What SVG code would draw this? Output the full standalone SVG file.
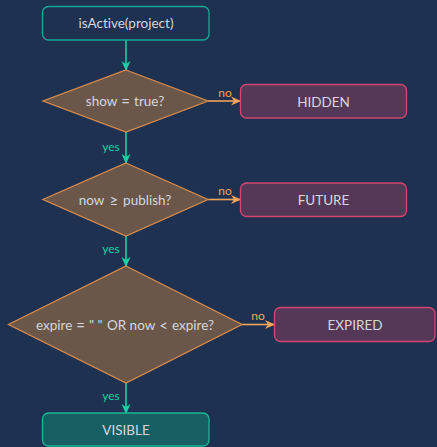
<svg xmlns="http://www.w3.org/2000/svg" width="437" height="447" viewBox="0 0 437 447">
  <defs>
    <style>
      .bg { fill: #1e3150; }
      .start { fill: #1e3150; stroke: #17a897; stroke-width: 1.3; }
      .dec { fill: #6b5749; stroke: #d98c4c; stroke-width: 1.3; }
      .stop { fill: #553858; stroke: #d5456f; stroke-width: 1.3; }
      .ok { fill: #185f63; stroke: #17b894; stroke-width: 1.3; }
      text { font-variant-ligatures: none; }
      .lbl { font-family: "Lato", "DejaVu Sans", sans-serif; font-size: 13.5px; fill: #d6d6de; text-anchor: middle; dominant-baseline: central; }
      .op { font-size: 15px; }
      .yes { stroke: #1ccfa4; stroke-width: 1.6; fill: none; }
      .no { stroke: #f0a35a; stroke-width: 1.6; fill: none; }
      .ytxt { font-family: "Lato", "DejaVu Sans", sans-serif; font-size: 12px; fill: #1ccfa4; text-anchor: middle; }
      .ntxt { font-family: "Lato", "DejaVu Sans", sans-serif; font-size: 12px; fill: #f0a35a; text-anchor: middle; }
    </style>
    <marker id="ah-yes" viewBox="0 0 10 10" refX="9" refY="5" markerWidth="10" markerHeight="10" orient="auto" markerUnits="userSpaceOnUse">
      <path d="M0,0.5 L10,5 L0,9.5 L3,5 Z" fill="#1ccfa4"/>
    </marker>
    <marker id="ah-no" viewBox="0 0 10 10" refX="9" refY="5" markerWidth="10" markerHeight="10" orient="auto" markerUnits="userSpaceOnUse">
      <path d="M0,0.5 L10,5 L0,9.5 L3,5 Z" fill="#f0a35a"/>
    </marker>
  </defs>

  <rect class="bg" x="0" y="0" width="437" height="447"/>

  <!-- connectors -->
  <g id="connectors">
    <line class="yes" x1="126" y1="40" x2="126" y2="70" marker-end="url(#ah-yes)"/>
    <line class="no" x1="208" y1="101" x2="240" y2="101" marker-end="url(#ah-no)"/>
    <text class="ntxt" x="225" y="97">no</text>
    <line class="yes" x1="126" y1="132" x2="126" y2="163" marker-end="url(#ah-yes)"/>
    <text class="ytxt" x="111" y="151">yes</text>
    <line class="no" x1="208" y1="199.5" x2="240" y2="199.5" marker-end="url(#ah-no)"/>
    <text class="ntxt" x="225" y="195">no</text>
    <line class="yes" x1="126" y1="236" x2="126" y2="266" marker-end="url(#ah-yes)"/>
    <text class="ytxt" x="111" y="253">yes</text>
    <line class="no" x1="242" y1="324.5" x2="274" y2="324.5" marker-end="url(#ah-no)"/>
    <text class="ntxt" x="258" y="320">no</text>
    <line class="yes" x1="126" y1="383" x2="126" y2="413" marker-end="url(#ah-yes)"/>
    <text class="ytxt" x="111" y="400">yes</text>
  </g>

  <g id="start">
    <rect class="start" x="42.5" y="6.5" width="166.5" height="33.5" rx="6"/>
    <text class="lbl" x="126" y="23">isActive(project)</text>
  </g>

  <g id="check-show">
    <polygon class="dec" points="126,70 208,101 126,132 43,101"/>
    <text class="lbl" x="125" y="101">show<tspan class="op" dx="4">=</tspan><tspan dx="4">true?</tspan></text>
  </g>

  <g id="hidden">
    <rect class="stop" x="240.5" y="84.5" width="166" height="33.5" rx="6"/>
    <text class="lbl" x="323.5" y="101.5">HIDDEN</text>
  </g>

  <g id="check-publish">
    <polygon class="dec" points="126,163 208,199.5 126,236 43,199.5"/>
    <text class="lbl" x="125" y="199.5">now<tspan class="op" dx="5">≥</tspan><tspan dx="5">publish?</tspan></text>
  </g>

  <g id="future">
    <rect class="stop" x="240.5" y="183" width="166" height="33.5" rx="6"/>
    <text class="lbl" x="323.5" y="200">FUTURE</text>
  </g>

  <g id="check-expire">
    <polygon class="dec" points="126,266 242,324.5 126,383 8.5,324.5"/>
    <text class="lbl" x="125" y="324.5">expire<tspan class="op" dx="4">=</tspan><tspan dx="4">" "</tspan><tspan dx="1"> OR now</tspan><tspan class="op" dx="4">&lt;</tspan><tspan dx="4">expire?</tspan></text>
  </g>

  <g id="expired">
    <rect class="stop" x="274.5" y="307.5" width="160.5" height="34" rx="6"/>
    <text class="lbl" x="355" y="324.5">EXPIRED</text>
  </g>

  <g id="visible">
    <rect class="ok" x="42.5" y="413" width="166.5" height="33" rx="6"/>
    <text class="lbl" x="126" y="430">VISIBLE</text>
  </g>
</svg>
